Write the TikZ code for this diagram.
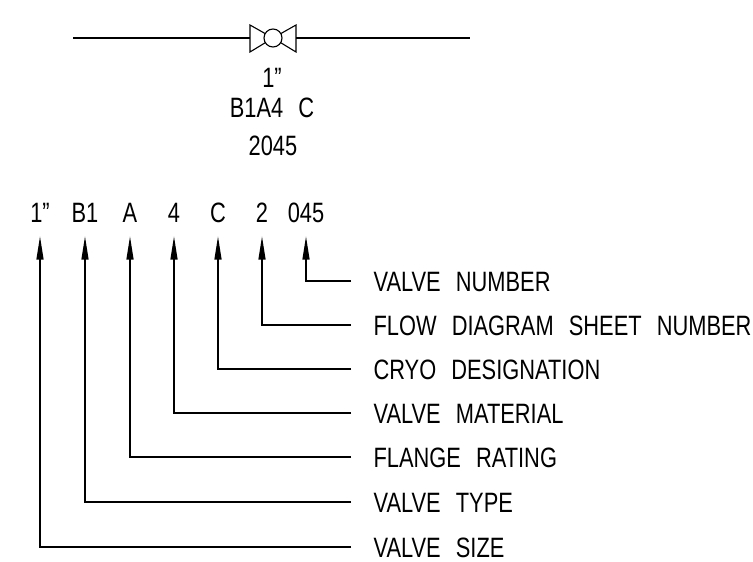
\documentclass[tikz,border=0pt]{standalone}
\usepackage{fontspec}
\setmainfont[FakeStretch=0.78,WordSpace=2.5]{Liberation Sans}
\usetikzlibrary{arrows.meta, positioning}

\begin{document}
\begin{tikzpicture}[x=1pt, y=-1pt, line width=1.1pt,
    txt/.style={font=\fontsize{28}{32}\selectfont, inner sep=0pt},
    part/.style={txt, text height=20pt, text depth=0pt, outer ysep=14pt},
    lbl/.style={txt, anchor=west, inner xsep=22pt, text height=20pt, text depth=0pt},
    pointer/.style={-{Triangle[length=23pt, width=7pt]}}]
    \useasboundingbox (0,0) rectangle (753,562);

    % valve on the pipe %
      \coordinate (valve) at (273,38);
      \draw (73,38) -- (250,38);
      \draw (296,38) -- (470,38);
      \draw (250,25) -- (250,52) -- (valve) -- cycle;
      \draw (296,25) -- (296,52) -- (valve) -- cycle;
      \draw[fill=white] (valve) circle (9);

    % tag %
      \node[txt] (tsize) at (272,77.5) {1”};
      \node[txt] (tcode) at (272,108) {B1A4 C};
      \node[txt] (tnum) at (273,146) {2045};

    % code parts %
      \node[part] (size) at (40,212.5) {1”};
      \node[part] (type) at (85,212.5) {B1};
      \node[part] (rating) at (130,212.5) {A};
      \node[part] (material) at (174,212.5) {4};
      \node[part] (cryo) at (218,212.5) {C};
      \node[part] (sheet) at (262,212.5) {2};
      \node[part] (number) at (306,212.5) {045};

    % labels %
      \node[lbl] (lnumber) at (351,281) {VALVE NUMBER};
      \node[lbl] (lsheet) at (351,325) {FLOW DIAGRAM SHEET NUMBER};
      \node[lbl] (lcryo) at (351,369) {CRYO DESIGNATION};
      \node[lbl] (lmaterial) at (351,413) {VALVE MATERIAL};
      \node[lbl] (lrating) at (351,457) {FLANGE RATING};
      \node[lbl] (ltype) at (351,502) {VALVE TYPE};
      \node[lbl] (lsize) at (351,547) {VALVE SIZE};

    % edges %
      \draw[pointer] (lnumber.west) -| (number.south);
      \draw[pointer] (lsheet.west) -| (sheet.south);
      \draw[pointer] (lcryo.west) -| (cryo.south);
      \draw[pointer] (lmaterial.west) -| (material.south);
      \draw[pointer] (lrating.west) -| (rating.south);
      \draw[pointer] (ltype.west) -| (type.south);
      \draw[pointer] (lsize.west) -| (size.south);
\end{tikzpicture}
\end{document}
